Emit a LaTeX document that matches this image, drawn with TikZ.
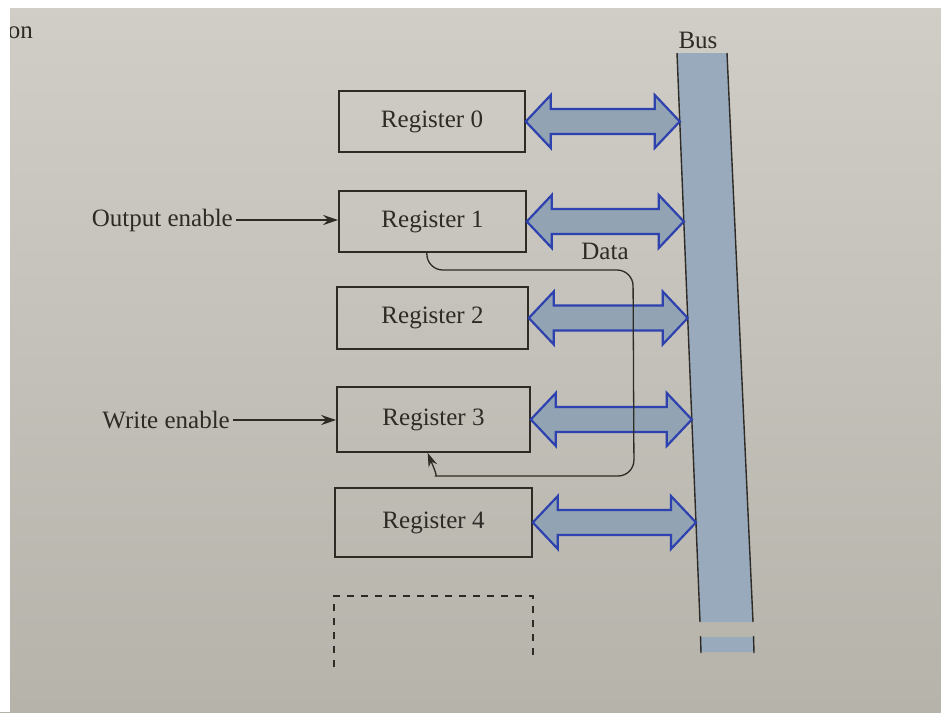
\documentclass[tikz,border=0pt]{standalone}
\usepackage{fontspec}
\setmainfont{Liberation Serif}
\usetikzlibrary{arrows.meta,calc}

\definecolor{ink}{RGB}{46,42,38}
\definecolor{paperTop}{RGB}{208,206,199}
\definecolor{paperBot}{RGB}{182,179,171}
\definecolor{busfill}{RGB}{152,170,188}
\definecolor{arrowline}{RGB}{45,65,175}
\definecolor{arrowfill}{RGB}{146,163,180}

\tikzset{
  label/.style={font=\fontsize{25}{29}\selectfont, text=ink, inner sep=3pt},
  regbox/.style={label, draw=ink, line width=1.6pt, minimum width=#1},
  busedge/.style={draw=ink, line width=1.4pt},
  enarrow/.style={draw=ink, line width=1.4pt, -{Stealth[length=15pt,width=10pt]}},
  wire/.style={draw=ink, line width=1.3pt},
  busarrow/.style={draw=arrowline, fill=arrowfill, line width=2.2pt, line join=miter,
    to path={let \p1=(\tikztostart), \p2=(\tikztotarget) in
      (\x1,\y1) -- (\x1+25pt,\y1+26.5pt) -- (\x1+25pt,\y1+12.5pt)
      -- (\x2-25pt,\y2+12.5pt) -- (\x2-25pt,\y2+26.5pt) -- (\x2,\y2)
      -- (\x2-25pt,\y2-26.5pt) -- (\x2-25pt,\y2-12.5pt)
      -- (\x1+25pt,\y1-12.5pt) -- (\x1+25pt,\y1-26.5pt) -- cycle}}
}

\begin{document}
\begin{tikzpicture}[x=1pt,y=-1pt]
\useasboundingbox (0,0) rectangle (941,712);

% paper
\fill[top color=paperTop, bottom color=paperBot] (0,0) rectangle (941,712);

% running head fragment
\node[label, anchor=east] (head) at (36,33) {on};

% the bus
\coordinate (bTL) at (677,53);
\coordinate (bTR) at (727,53);
\coordinate (bBL) at (700,622);
\coordinate (bBR) at (753,622);
\fill[busfill] (bTL) -- (bTR) -- (bBR) -- (bBL) -- cycle;
\draw[busedge] (bTL) -- (bBL);
\draw[busedge] (bTR) -- (bBR);
\fill[busfill] (700.5,637) -- (753.5,637) -- (754,652) -- (701,652) -- cycle;
\draw[busedge] (700.5,636) -- (701,653);
\draw[busedge] (753.5,636) -- (754,653);
\node[label] (buslabel) at (698,40) {Bus};

% registers
\node[regbox=186pt, minimum height=61pt] (r0) at (432,121.5) {Register 0};
\node[regbox=187pt, minimum height=61pt] (r1) at (432.5,221.5) {Register 1};
\node[regbox=191pt, minimum height=62pt] (r2) at (432.5,318) {Register 2};
\node[regbox=193pt, minimum height=65pt] (r3) at (433.5,419.5) {Register 3};
\node[regbox=197pt, minimum height=69pt] (r4) at (433.5,522.5) {Register 4};

% further registers, only begun
\draw[ink, line width=1.4pt, dash pattern=on 7pt off 7pt]
  (334,667) -- (334,596) -- (533,596) -- (533,658);

% register <-> bus transfers
\foreach \r in {r0,r1,r2,r3,r4}{
  \coordinate (tip-\r) at (intersection of \r.east--{$(\r.east)+(10,0)$} and bTL--bBL);
  \draw[busarrow] (\r.east) to (tip-\r);
}

% control lines
\node[label, anchor=east] (oe) at (236,220) {Output enable};
\draw[enarrow] (oe.east) -- (oe.east -| r1.west);
\node[label, anchor=east] (we) at (233,420) {Write enable};
\draw[enarrow] (we.east) -- (we.east -| r3.west);

% data path from register 1 to register 3
\coordinate (dstart) at ($(r1.south west)!0.47!(r1.south east)$);
\coordinate (dend) at ($(r3.south west)!0.47!(r3.south east)$);
\coordinate (loopNE) at (633,270);
\coordinate (loopSE) at (634,476);
\draw[wire, -{Stealth[length=14pt,width=9pt]}, rounded corners=16pt]
  (dstart) -- (dstart |- loopNE) -- (loopNE) -- (loopSE)
  -- ($(dend |- loopSE)+(24,0)$) [sharp corners]
  .. controls +(-14,0) and +(4,10) .. (dend);
\node[label] (data) at (605,251) {Data};

% page edge
\fill[white] (0,0) rectangle (10,712);
\fill[white] (0,0) rectangle (941,8);
\end{tikzpicture}
\end{document}
